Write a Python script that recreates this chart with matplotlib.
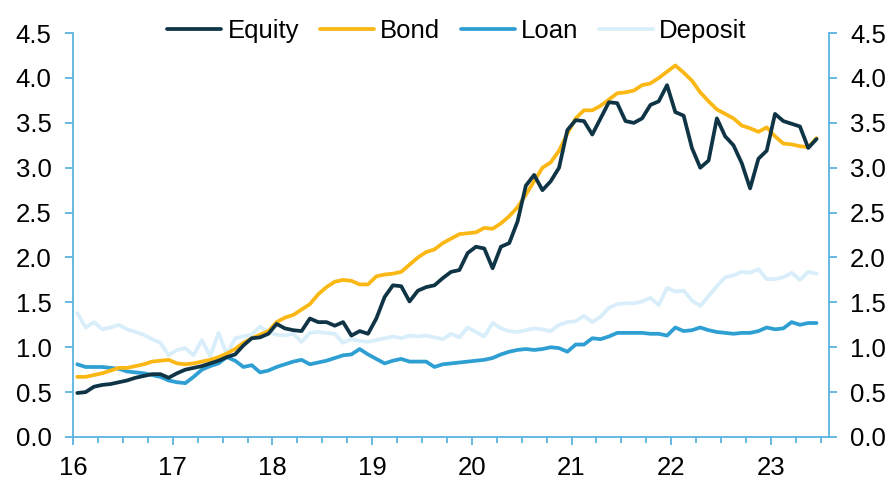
# plot.py
import numpy as np
import matplotlib.pyplot as plt
from matplotlib.ticker import MultipleLocator, FixedLocator

plt.rcParams['font.family'] = ['Liberation Sans', 'DejaVu Sans']

# monthly observations, Jan 2016 - Jun 2023
equity = [0.49, 0.50, 0.56, 0.58, 0.59, 0.61, 0.63, 0.66, 0.68, 0.70, 0.70, 0.66,
          0.71, 0.75, 0.77, 0.79, 0.82, 0.85, 0.89, 0.92, 1.02, 1.10, 1.11, 1.15,
          1.26, 1.21, 1.19, 1.18, 1.32, 1.28, 1.28, 1.24, 1.28, 1.13, 1.18, 1.15,
          1.32, 1.56, 1.69, 1.68, 1.51, 1.63, 1.67, 1.69, 1.77, 1.84, 1.86, 2.05,
          2.12, 2.10, 1.88, 2.12, 2.16, 2.40, 2.80, 2.92, 2.75, 2.85, 3.00, 3.42,
          3.53, 3.52, 3.37, 3.55, 3.73, 3.72, 3.52, 3.50, 3.55, 3.70, 3.74, 3.92,
          3.62, 3.58, 3.22, 3.00, 3.08, 3.55, 3.35, 3.25, 3.05, 2.77, 3.10, 3.19,
          3.60, 3.52, 3.49, 3.46, 3.22, 3.32]
bond = [0.67, 0.67, 0.69, 0.71, 0.74, 0.77, 0.77, 0.79, 0.81, 0.84, 0.85, 0.86,
        0.82, 0.81, 0.82, 0.84, 0.86, 0.89, 0.93, 0.98, 1.05, 1.10, 1.14, 1.18,
        1.28, 1.33, 1.36, 1.42, 1.48, 1.59, 1.67, 1.73, 1.75, 1.74, 1.70, 1.70,
        1.79, 1.81, 1.82, 1.84, 1.92, 2.00, 2.06, 2.09, 2.16, 2.21, 2.26, 2.27,
        2.28, 2.33, 2.32, 2.38, 2.46, 2.56, 2.70, 2.85, 3.00, 3.06, 3.19, 3.38,
        3.55, 3.64, 3.64, 3.69, 3.76, 3.83, 3.84, 3.86, 3.92, 3.94, 4.00, 4.07,
        4.14, 4.06, 3.97, 3.84, 3.74, 3.65, 3.60, 3.55, 3.47, 3.44, 3.40, 3.45,
        3.35, 3.27, 3.26, 3.24, 3.23, 3.33]
loan = [0.81, 0.78, 0.78, 0.78, 0.77, 0.76, 0.73, 0.72, 0.71, 0.69, 0.67, 0.63,
        0.61, 0.60, 0.67, 0.75, 0.79, 0.82, 0.89, 0.85, 0.78, 0.80, 0.72, 0.74,
        0.78, 0.81, 0.84, 0.86, 0.81, 0.83, 0.85, 0.88, 0.91, 0.92, 0.98, 0.92,
        0.87, 0.82, 0.85, 0.87, 0.84, 0.84, 0.84, 0.78, 0.81, 0.82, 0.83, 0.84,
        0.85, 0.86, 0.88, 0.92, 0.95, 0.97, 0.98, 0.97, 0.98, 1.00, 0.99, 0.95,
        1.03, 1.03, 1.10, 1.09, 1.12, 1.16, 1.16, 1.16, 1.16, 1.15, 1.15, 1.13,
        1.22, 1.18, 1.19, 1.22, 1.19, 1.17, 1.16, 1.15, 1.16, 1.16, 1.18, 1.22,
        1.20, 1.21, 1.28, 1.25, 1.27, 1.27]
deposit = [1.38, 1.22, 1.28, 1.20, 1.22, 1.25, 1.20, 1.17, 1.14, 1.09, 1.05, 0.91,
           0.97, 0.99, 0.91, 1.08, 0.90, 1.16, 0.92, 1.10, 1.12, 1.14, 1.23, 1.17,
           1.14, 1.13, 1.15, 1.06, 1.16, 1.17, 1.16, 1.15, 1.05, 1.09, 1.07, 1.06,
           1.08, 1.10, 1.12, 1.10, 1.13, 1.12, 1.13, 1.11, 1.09, 1.15, 1.11, 1.22,
           1.17, 1.12, 1.27, 1.21, 1.18, 1.17, 1.19, 1.21, 1.20, 1.18, 1.25, 1.28,
           1.29, 1.35, 1.28, 1.34, 1.44, 1.48, 1.49, 1.49, 1.51, 1.55, 1.47, 1.66,
           1.62, 1.63, 1.52, 1.46, 1.57, 1.68, 1.78, 1.80, 1.84, 1.83, 1.87, 1.76,
           1.76, 1.78, 1.83, 1.75, 1.84, 1.82]

year_labels = ['16', '17', '18', '19', '20', '21', '22', '23']
y_ticks = [0.0, 0.5, 1.0, 1.5, 2.0, 2.5, 3.0, 3.5, 4.0, 4.5]

# x position: year (2-digit) + mid-month fraction
months = np.arange(len(equity))
x = 16 + (months + 0.5) / 12

spine_col = '#5bb4e0'

fig = plt.figure(figsize=(8.92, 4.8), dpi=100)
ax = fig.add_axes([0.082, 0.0896, 0.847, 0.8414])

series = [('Equity', equity, '#0e3446'),
          ('Bond', bond, '#fbb815'),
          ('Loan', loan, '#2e9fd3'),
          ('Deposit', deposit, '#d8eefa')]
for k, (name, vals, col) in enumerate(series):
    ax.plot(x, vals, color=col, lw=2.7, label=name, zorder=10 - k,
            solid_joinstyle='round', solid_capstyle='round')

ax.set_xlim(16, 23.58)
ax.set_ylim(0, 4.5)
ax.xaxis.set_major_locator(FixedLocator(range(16, 24)))
ax.set_xticklabels(year_labels)
ax.xaxis.set_minor_locator(MultipleLocator(0.25))
ax.set_yticks(y_ticks)
ax.set_yticklabels([f'{v:.1f}' for v in y_ticks])

ax.spines['top'].set_visible(False)
for s in ['left', 'right', 'bottom']:
    ax.spines[s].set_color(spine_col)
    ax.spines[s].set_linewidth(1.3)

ax.tick_params(axis='y', which='both', direction='out', length=6, width=1.3,
               color=spine_col, labelsize=18.5, pad=9.5, left=True, right=True,
               labelleft=True, labelright=True)
ax.tick_params(axis='x', which='major', direction='out', length=5.5, width=1.3,
               color=spine_col, labelsize=18.5, pad=8)
ax.tick_params(axis='x', which='minor', direction='out', length=4, width=1.3,
               color=spine_col)

fig.legend(loc='center', bbox_to_anchor=(457 / 892, 1 - 31 / 480), ncol=4,
           frameon=False, fontsize=18.5, handlelength=2.1, handletextpad=0.25,
           columnspacing=0.8, borderpad=0)

fig.savefig('out.png', dpi=100)
